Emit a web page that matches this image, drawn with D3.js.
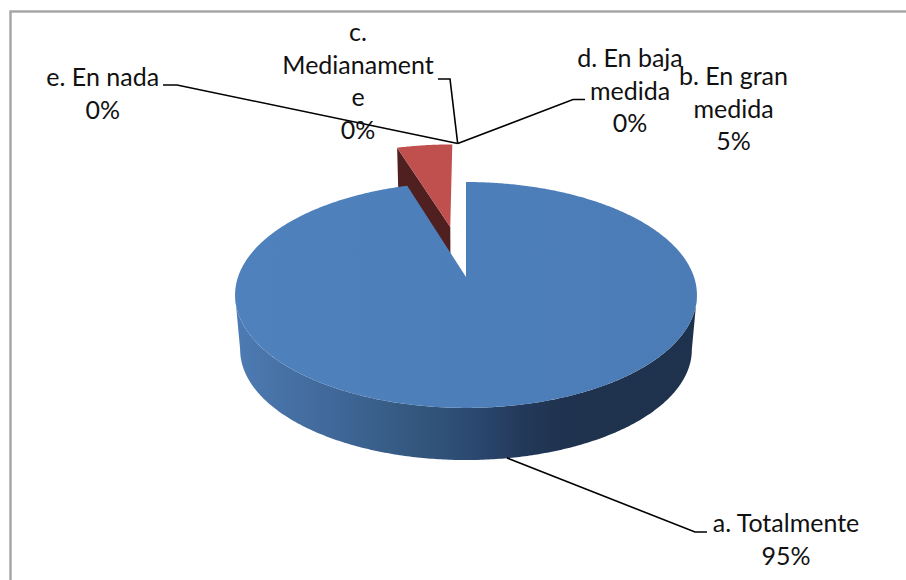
<!DOCTYPE html>
<html><head><meta charset="utf-8">
<script src="https://cdn.jsdelivr.net/npm/d3@7"></script>
<style>html,body{margin:0;background:#fff}svg{display:block}text{font-family:Lato,"Open Sans",sans-serif;font-size:25px;fill:#111}</style>
</head><body><svg id="c" width="906" height="580"></svg>
<script>
const categories = ["a. Totalmente","b. En gran medida","c. Medianamente","d. En baja medida","e. En nada"];
const values = [95.2,4.8,0,0,0];
const labelLines = [["a. Totalmente"],["b. En gran","medida"],["c.","Medianament","e"],["d. En baja","medida"],["e. En nada"]];
const labelCenters = [786,733.5,358,630,102.7];
const labelBaselines = [532,85,41,67,86];
const leaders = [
  [[507,458],[695,532],[707,532]],
  null,
  [[457.7,143.5],[450,79],[438,79]],
  [[457.7,143.5],[573,99.5],[585,99.5]],
  [[457.7,143.5],[177,85],[163,85]]
];
const colors = ["#4f81bd","#c0504d"];
const svg = d3.select("#c");
svg.append("rect").attr("x",10.5).attr("y",11.5).attr("width",1000).attr("height",700).attr("fill","#fff").attr("stroke","#a4a4a4").attr("stroke-width",2.4);

const cx = 466, cy = 277, R = 228, A = 110.1, C = 0.159, depthY = 55, depthS = 0.978, explode = 0.495;
const pie = d3.pie().sort(null).value(d=>d);
const arcs = pie(values);
function proj(u,v,bottom){
  const w = 1 + C*v;
  const s = bottom ? depthS : 1;
  return [cx + s*R*u/w, cy + (bottom?depthY:0) - s*A*v/w];
}
function rimPts(a0,a1,off,bottom){
  const n = Math.max(2,Math.ceil((a1-a0)/0.01));
  return d3.range(n+1).map(i=>{
    const t = a0 + (a1-a0)*i/n;
    return proj(off[0]+Math.sin(t),off[1]+Math.cos(t),bottom);
  });
}
function offset(a,e){const m=(a.startAngle+a.endAngle)/2;return [e*Math.sin(m),e*Math.cos(m)];}
const line = d3.line();

const defs = svg.append("defs");
const g = defs.append("linearGradient").attr("id","side").attr("gradientUnits","userSpaceOnUse").attr("x1",235).attr("x2",698).attr("y1",0).attr("y2",0);
[[0,"#4d7bb3"],[0.2,"#41699a"],[0.38,"#34587f"],[0.5,"#2c4b73"],[0.62,"#23395a"],[0.72,"#1f324e"],[1,"#1f324d"]].forEach(s=>g.append("stop").attr("offset",s[0]).attr("stop-color",s[1]));
const tg = defs.append("linearGradient").attr("id","topf").attr("gradientUnits","userSpaceOnUse").attr("x1",235).attr("x2",698).attr("y1",0).attr("y2",0);
[[0,"#4f81bd"],[1,"#4b7cb6"]].forEach(s=>tg.append("stop").attr("offset",s[0]).attr("stop-color",s[1]));

// exploded small slice
const red = arcs[1], ro = offset(red,explode);
const rt = rimPts(red.startAngle,red.endAngle,ro,false), rb = rimPts(red.startAngle,red.endAngle,ro,true);
const apexT = proj(ro[0],ro[1],false), apexB = proj(ro[0],ro[1],true);
svg.append("path").attr("d",line([rt[0],apexT,apexB,rb[0]])+"Z").attr("fill","#4f201f");
svg.append("path").attr("d",line([apexT,...rt])+"Z").attr("fill",colors[1]);

// main slice: visible wall runs between the two silhouette tangents of the projected rim
const blue = arcs[0];
const tangent = Math.acos(-C);
const frontA = Math.max(blue.startAngle,tangent), frontB = Math.min(blue.endAngle,2*Math.PI-tangent);
const ft = rimPts(frontA,frontB,[0,0],false), fb = rimPts(frontA,frontB,[0,0],true);
svg.append("path").attr("d",line([...ft,...fb.slice().reverse()])+"Z").attr("fill","url(#side)");
const bt = rimPts(blue.startAngle,blue.endAngle,[0,0],false);
svg.append("path").attr("d",line([proj(0,0,false),...bt])+"Z").attr("fill","url(#topf)");

// leaders
leaders.forEach(l=>{ if(l) svg.append("path").attr("d",line(l)).attr("fill","none").attr("stroke","#000").attr("stroke-width",1.6); });

// labels
const LH = 32.7;
categories.forEach((c,i)=>{
  const lines = [...labelLines[i], Math.round(values[i])+"%"];
  const t = svg.append("text").attr("text-anchor","middle");
  lines.forEach((s,k)=>t.append("tspan").attr("x",labelCenters[i]).attr("y",labelBaselines[i]+k*LH).text(s));
});
</script></body></html>
